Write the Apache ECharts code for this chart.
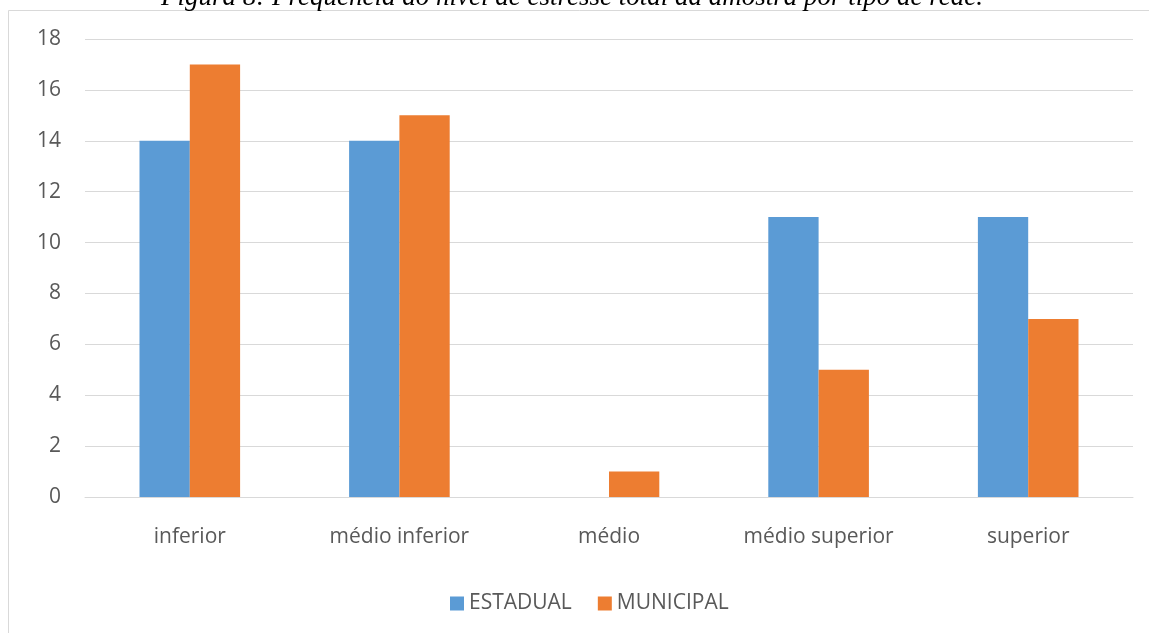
<!DOCTYPE html>
<html>
<head>
<meta charset="utf-8">
<script src="https://cdn.jsdelivr.net/npm/echarts@6/dist/echarts.min.js"></script>
<style>
html,body{margin:0;padding:0;background:#fff;}
#chart{width:1149px;height:633px;}
</style>
</head>
<body>
<div id="chart"></div>
<script>
var categories = ['inferior', 'médio inferior', 'médio', 'médio superior', 'superior'];
var estadual = [14, 14, 0, 11, 11];
var municipal = [17, 15, 1, 5, 7];
var seriesNames = ['ESTADUAL', 'MUNICIPAL'];
var titleText = 'Figura 8: Frequência do nível de estresse total da amostra por tipo de rede.';

var chart = echarts.init(document.getElementById('chart'), null, {renderer: 'canvas'});
var font = '"Open Sans", "DejaVu Sans", sans-serif';
chart.setOption({
  animation: false,
  backgroundColor: '#fff',
  graphic: [{
    type: 'rect',
    shape: {x: 8.5, y: 10.5, width: 1200, height: 700},
    style: {fill: 'none', stroke: '#D9D9D9', lineWidth: 1},
    silent: true,
    z: 0
  }, {
    type: 'text',
    x: 572,
    y: 11,
    style: {
      text: titleText,
      font: 'italic 27px "Liberation Serif", serif',
      fill: '#000',
      align: 'center',
      verticalAlign: 'bottom'
    },
    silent: true,
    z: 10
  }],
  grid: {left: 85, right: 16, top: 39, bottom: 136, containLabel: false},
  legend: {
    data: seriesNames,
    bottom: 14,
    left: 445,
    itemWidth: 14,
    itemHeight: 14,
    itemGap: 26,
    icon: 'rect',
    textStyle: {fontFamily: font, fontSize: 21, color: '#595959'}
  },
  xAxis: {
    type: 'category',
    data: categories,
    axisLine: {show: true, lineStyle: {color: '#D9D9D9', width: 1}},
    axisTick: {show: false},
    axisLabel: {fontFamily: font, fontSize: 21, color: '#595959', margin: 30}
  },
  yAxis: {
    type: 'value',
    min: 0,
    max: 18,
    interval: 2,
    axisLine: {show: false},
    axisTick: {show: false},
    splitLine: {lineStyle: {color: '#D9D9D9', width: 1}},
    axisLabel: {fontFamily: font, fontSize: 21, color: '#595959', margin: 24}
  },
  series: [
    {name: seriesNames[0], type: 'bar', data: estadual, itemStyle: {color: '#5B9BD5'}, barGap: '0%', barCategoryGap: '52%'},
    {name: seriesNames[1], type: 'bar', data: municipal, itemStyle: {color: '#ED7D31'}, barGap: '0%', barCategoryGap: '52%'}
  ]
});
</script>
</body>
</html>
